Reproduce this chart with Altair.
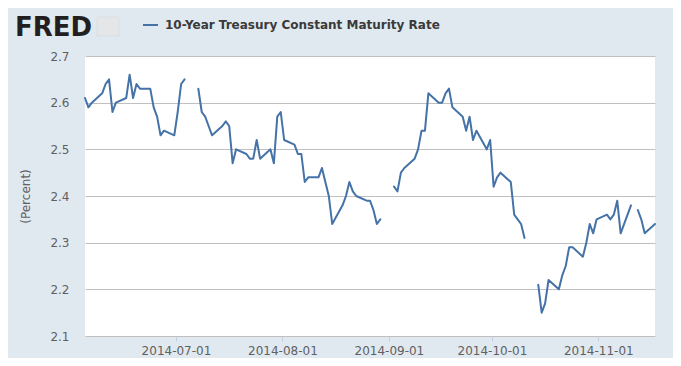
import altair as alt
import pandas as pd

# ---- data ----
dates = [
    "2014-06-04", "2014-06-05", "2014-06-06", "2014-06-09", "2014-06-10", "2014-06-11",
    "2014-06-12", "2014-06-13", "2014-06-16", "2014-06-17", "2014-06-18", "2014-06-19",
    "2014-06-20", "2014-06-23", "2014-06-24", "2014-06-25", "2014-06-26", "2014-06-27",
    "2014-06-30", "2014-07-01", "2014-07-02", "2014-07-03", "2014-07-04", "2014-07-07",
    "2014-07-08", "2014-07-09", "2014-07-10", "2014-07-11", "2014-07-14", "2014-07-15",
    "2014-07-16", "2014-07-17", "2014-07-18", "2014-07-21", "2014-07-22", "2014-07-23",
    "2014-07-24", "2014-07-25", "2014-07-28", "2014-07-29", "2014-07-30", "2014-07-31",
    "2014-08-01", "2014-08-04", "2014-08-05", "2014-08-06", "2014-08-07", "2014-08-08",
    "2014-08-11", "2014-08-12", "2014-08-13", "2014-08-14", "2014-08-15", "2014-08-18",
    "2014-08-19", "2014-08-20", "2014-08-21", "2014-08-22", "2014-08-25", "2014-08-26",
    "2014-08-27", "2014-08-28", "2014-08-29", "2014-09-01", "2014-09-02", "2014-09-03",
    "2014-09-04", "2014-09-05", "2014-09-08", "2014-09-09", "2014-09-10", "2014-09-11",
    "2014-09-12", "2014-09-15", "2014-09-16", "2014-09-17", "2014-09-18", "2014-09-19",
    "2014-09-22", "2014-09-23", "2014-09-24", "2014-09-25", "2014-09-26", "2014-09-29",
    "2014-09-30", "2014-10-01", "2014-10-02", "2014-10-03", "2014-10-06", "2014-10-07",
    "2014-10-08", "2014-10-09", "2014-10-10", "2014-10-13", "2014-10-14", "2014-10-15",
    "2014-10-16", "2014-10-17", "2014-10-20", "2014-10-21", "2014-10-22", "2014-10-23",
    "2014-10-24", "2014-10-27", "2014-10-28", "2014-10-29", "2014-10-30", "2014-10-31",
    "2014-11-03", "2014-11-04", "2014-11-05", "2014-11-06", "2014-11-07", "2014-11-10",
    "2014-11-11", "2014-11-12", "2014-11-13", "2014-11-14", "2014-11-17",
]
values = [
    2.61, 2.59, 2.60, 2.62, 2.64, 2.65,
    2.58, 2.60, 2.61, 2.66, 2.61, 2.64,
    2.63, 2.63, 2.59, 2.57, 2.53, 2.54,
    2.53, 2.58, 2.64, 2.65, None, 2.63,
    2.58, 2.57, 2.55, 2.53, 2.55, 2.56,
    2.55, 2.47, 2.50, 2.49, 2.48, 2.48,
    2.52, 2.48, 2.50, 2.47, 2.57, 2.58,
    2.52, 2.51, 2.49, 2.49, 2.43, 2.44,
    2.44, 2.46, 2.43, 2.40, 2.34, 2.38,
    2.40, 2.43, 2.41, 2.40, 2.39, 2.39,
    2.37, 2.34, 2.35, None, 2.42, 2.41,
    2.45, 2.46, 2.48, 2.50, 2.54, 2.54,
    2.62, 2.60, 2.60, 2.62, 2.63, 2.59,
    2.57, 2.54, 2.57, 2.52, 2.54, 2.50,
    2.52, 2.42, 2.44, 2.45, 2.43, 2.36,
    2.35, 2.34, 2.31, None, 2.21, 2.15,
    2.17, 2.22, 2.20, 2.23, 2.25, 2.29,
    2.29, 2.27, 2.30, 2.34, 2.32, 2.35,
    2.36, 2.35, 2.36, 2.39, 2.32, 2.38,
    None, 2.37, 2.35, 2.32, 2.34,
]
y_ticks = [2.1, 2.2, 2.3, 2.4, 2.5, 2.6, 2.7]
x_ticks = ["2014-07-01", "2014-08-01", "2014-09-01", "2014-10-01", "2014-11-01"]
x_range = ["2014-06-04", "2014-11-17"]
series_name = "10-Year Treasury Constant Maturity Rate"
y_title = "(Percent)"
brand = "FRED"

# ---- styles ----
LINE = "#4572A7"
BG = "#E1E9F0"
FONT = "DejaVu Sans"
LABEL = "#606060"


def dt(s, hours=0):
    y, m, d = (int(p) for p in s.split("-"))
    return alt.DateTime(year=y, month=m, date=d, hours=hours, utc=True)


df = pd.DataFrame({"date": [d + "T12:00:00Z" for d in dates], "value": values})
df["segment"] = df["value"].isna().cumsum()
df = df.dropna().reset_index(drop=True)

line = alt.Chart(df).mark_line(
    color=LINE, strokeWidth=2, strokeJoin="round", strokeCap="round"
).encode(
    x=alt.X(
        "date:T",
        scale=alt.Scale(type="utc", domain=[dt(x_range[0], 12), dt(x_range[1], 12)]),
        axis=alt.Axis(
            values=[dt(t) for t in x_ticks],
            format="%Y-%m-%d",
            grid=False,
            domain=False,
            tickColor="#C0D0E0",
            tickSize=5,
            labelPadding=4,
            labelFont=FONT,
            labelFontSize=12,
            labelColor=LABEL,
            title=None,
        ),
    ),
    y=alt.Y(
        "value:Q",
        scale=alt.Scale(domain=[y_ticks[0], y_ticks[-1]], nice=False, zero=False),
        axis=alt.Axis(
            values=y_ticks,
            format=".1f",
            grid=True,
            gridColor="#C0C0C0",
            gridWidth=1,
            domain=False,
            ticks=False,
            tickSize=0,
            labelPadding=16,
            labelFont=FONT,
            labelFontSize=12,
            labelColor=LABEL,
            title=y_title,
            titleFont=FONT,
            titleFontSize=12,
            titleFontWeight="normal",
            titleColor=LABEL,
            titleAngle=270,
            titleX=-60,
            titleY=140,
            titleAlign="center",
            titleBaseline="middle",
        ),
    ),
    detail="segment:N",
)

one = pd.DataFrame({"t": [brand], "s": [series_name]})

logo = alt.Chart(one).mark_text(
    font=FONT, fontSize=26, fontWeight="bold", color="#231F20",
    align="left", baseline="alphabetic",
).encode(text="t:N", x=alt.value(-70), y=alt.value(-20))

icon = alt.Chart(one).mark_rect(
    fill="#E4E6E8", stroke="#D0D4D8", strokeWidth=0.5
).encode(x=alt.value(12), x2=alt.value(34), y=alt.value(-39), y2=alt.value(-20))

legend_line = alt.Chart(one).mark_rule(color=LINE, strokeWidth=2).encode(
    x=alt.value(58), x2=alt.value(73), y=alt.value(-31)
)

legend_text = alt.Chart(one).mark_text(
    font=FONT, fontSize=12, fontWeight="bold", color="#3A3A3A",
    align="left", baseline="middle",
).encode(text="s:N", x=alt.value(80), y=alt.value(-31.5))

chart = (
    alt.layer(line, logo, icon, legend_line, legend_text)
    .properties(
        width=570,
        height=280,
        autosize=alt.AutoSizeParams(type="none"),
        padding={"left": 77, "top": 48, "right": 18, "bottom": 22},
        background=BG,
    )
    .configure_view(stroke=None, fill="white")
)

chart.save("out.html", embed_options={"renderer": "svg", "actions": False})
